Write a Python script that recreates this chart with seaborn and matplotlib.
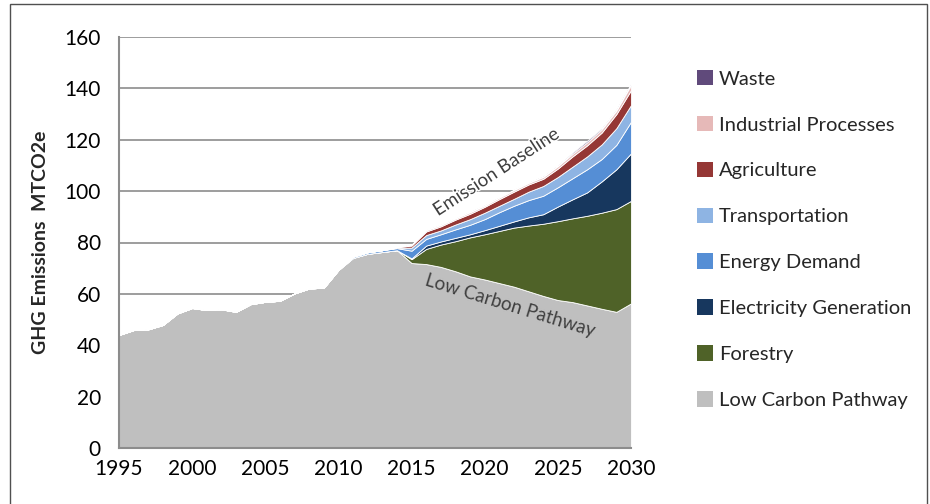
import numpy as np
import pandas as pd
import matplotlib.pyplot as plt
import matplotlib.patheffects as pe
from matplotlib.patches import Patch, Rectangle
import seaborn as sns

# values (MTCO2e)
years = list(range(1995, 2031))
low_carbon = [44.0, 45.9, 46.2, 47.9, 52.4, 54.5, 53.7, 54.0, 53.0, 56.0,
              56.9, 57.3, 60.2, 62.1, 62.4, 69.3, 74.0, 75.6, 76.3, 77.0,
              72.0, 71.6, 70.5, 68.8, 66.8, 65.6, 64.2, 62.8, 61.0, 59.2,
              57.6, 56.8, 55.5, 54.2, 53.0, 56.3]
forestry = [0] * 20 + [1.5, 5.9, 8.7, 11.7, 15.2, 17.6, 20.3, 23.0, 25.6, 28.1,
                       30.7, 32.6, 34.9, 37.4, 40.0, 39.9]
electricity = [0] * 20 + [0.3, 1.3, 1.2, 1.3, 1.2, 1.6, 2.0, 2.4, 3.2, 3.7,
                          5.7, 7.4, 9.1, 12.2, 15.5, 18.5]
energy_demand = [0] * 16 + [0.5, 0.6, 0.7, 0.8,
                            3.0, 2.6, 2.8, 3.3, 3.7, 4.3, 5.3, 6.1, 6.7, 7.2,
                            7.5, 8.2, 9.0, 8.7, 9.5, 12.3]
transportation = [0] * 19 + [0.2, 1.2, 1.5, 1.5, 1.9, 2.2, 2.5, 2.5, 2.7, 3.3, 3.8,
                             4.0, 4.5, 5.0, 5.7, 6.5, 6.5]
agriculture = [0] * 19 + [0.2, 0.8, 1.4, 1.6, 1.9, 2.1, 2.3, 2.6, 2.8, 2.8, 2.8,
                          3.3, 4.0, 4.3, 4.6, 5.5, 5.8]
industrial = [0] * 19 + [0.1, 0.3, 0.5, 0.5, 0.5, 0.6, 0.5, 0.6, 0.6, 0.6, 0.7,
                         0.9, 1.0, 1.2, 1.2, 1.3, 2.0]
waste = [0] * 20 + [0.1, 0.1, 0.2, 0.1, 0.2, 0.2, 0.2, 0.2, 0.2, 0.3,
                    0.3, 0.5, 0.6, 0.5, 0.5, 0.6]

series = ['Low Carbon Pathway', 'Forestry', 'Electricity Generation', 'Energy Demand',
          'Transportation', 'Agriculture', 'Industrial Processes', 'Waste']
colors = ['#BFBFBF', '#4F6228', '#17375E', '#558ED5',
          '#8EB4E3', '#953735', '#E6B9B8', '#604A7B']

df = pd.DataFrame({'year': years,
                   'Low Carbon Pathway': low_carbon,
                   'Forestry': forestry,
                   'Electricity Generation': electricity,
                   'Energy Demand': energy_demand,
                   'Transportation': transportation,
                   'Agriculture': agriculture,
                   'Industrial Processes': industrial,
                   'Waste': waste})

sns.set_theme(style='white')
plt.rcParams['font.family'] = ['Lato', 'DejaVu Sans']

fig = plt.figure(figsize=(9.3, 5.04), dpi=100)
ax = fig.add_axes([119 / 930, 56 / 504, 512 / 930, 411 / 504])

ax.stackplot(df['year'], [df[s] for s in series], colors=colors,
             edgecolor='white', linewidth=0.6, zorder=3)

ax.set_xlim(1995, 2030)
ax.set_ylim(0, 160)
ax.set_xticks(range(1995, 2031, 5))
ax.set_xticks(range(1995, 2031), minor=True)
ax.set_yticks(range(0, 161, 20))
ax.yaxis.grid(True, color='#8C8C8C', linewidth=1.2, zorder=0)
ax.set_axisbelow(True)
sns.despine(ax=ax)
for sp in ['left', 'bottom']:
    ax.spines[sp].set_color('#8C8C8C')
    ax.spines[sp].set_linewidth(1.5)
    ax.spines[sp].set_zorder(4)
ax.tick_params(axis='both', which='both', direction='out', color='#8C8C8C',
               width=1.2, labelsize=15, labelcolor='black')
ax.tick_params(axis='x', which='both', length=6, pad=2)
ax.tick_params(axis='y', length=6, pad=7)

ax.set_ylabel('GHG Emissions  MTCO2e', fontsize=14, fontweight='bold', labelpad=11)
ax.set_xlabel('')

ax.text(2020.8, 107.5, 'Emission Baseline', rotation=33, fontsize=13.5,
        color='#404040', ha='center', va='center', rotation_mode='anchor',
        path_effects=[pe.withStroke(linewidth=2, foreground='white')], zorder=5)
ax.text(2021.7, 55.3, 'Low Carbon Pathway', rotation=-17, fontsize=13.5,
        color='#404040', ha='center', va='center', rotation_mode='anchor', zorder=5)

handles = [Patch(facecolor=c, edgecolor='none') for c in colors][::-1]
fig.legend(handles, series[::-1], loc='center left', bbox_to_anchor=(0.730, 0.525),
           frameon=False, fontsize=14.5, handlelength=0.8, handleheight=0.8,
           handletextpad=0.3, labelspacing=1.4)

fig.patches.append(Rectangle((10 / 930, -0.05), 917 / 930, 1.05 - 4 / 504,
                             transform=fig.transFigure, fill=False,
                             edgecolor='#505050', linewidth=1.0))

plt.savefig('out.png', dpi=100)
